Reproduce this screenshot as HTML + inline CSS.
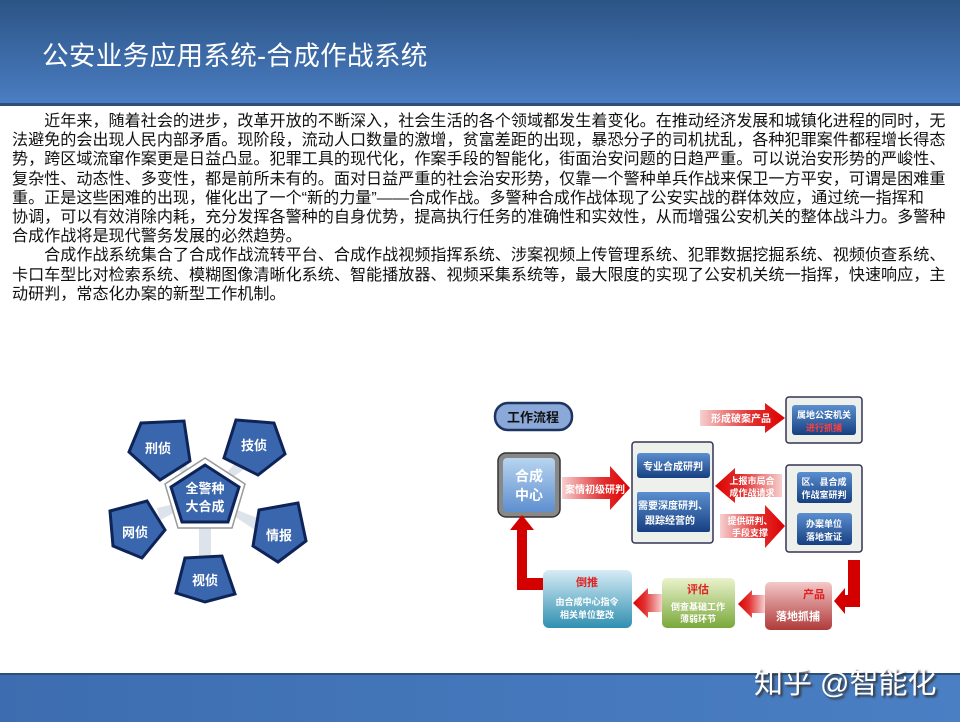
<!DOCTYPE html>
<html><head><meta charset="utf-8">
<style>
*{margin:0;padding:0}
body{width:960px;height:720px;position:relative;overflow:hidden;background:#fff;font-family:"Liberation Sans","Noto Sans CJK SC",sans-serif}
#hd{position:absolute;left:0;top:0;width:960px;height:103px;background:linear-gradient(#2c5486,#4a7dc2);border-bottom:3px solid #2c4f78}
#hd h1{position:absolute;left:42px;top:34px;font-size:26.6px;font-weight:normal;color:#fff;letter-spacing:0.3px;white-space:nowrap}
#tx{position:absolute;left:12px;top:112px;font-size:16.1px;line-height:19.2px;color:#111;white-space:nowrap}
#ft{position:absolute;left:0;top:673px;width:960px;height:47px;background:linear-gradient(90deg,#3d6db0,#4a7fc4);border-top:2px solid #2c4f78}
#wm{position:absolute;left:754px;top:660px;font-size:29px;color:#fff;text-shadow:2px 2px 2px #333;white-space:nowrap}
</style></head><body>
<div id="hd"><h1>公安业务应用系统-合成作战系统</h1></div>
<div id="tx">
<div>　　近年来，随着社会的进步，改革开放的不断深入，社会生活的各个领域都发生着变化。在推动经济发展和城镇化进程的同时，无</div>
<div>法避免的会出现人民内部矛盾。现阶段，流动人口数量的激增，贫富差距的出现，暴恐分子的司机扰乱，各种犯罪案件都程增长得态</div>
<div>势，跨区域流窜作案更是日益凸显。犯罪工具的现代化，作案手段的智能化，街面治安问题的日趋严重。可以说治安形势的严峻性、</div>
<div>复杂性、动态性、多变性，都是前所未有的。面对日益严重的社会治安形势，仅靠一个警种单兵作战来保卫一方平安，可谓是困难重</div>
<div>重。正是这些困难的出现，催化出了一个“新的力量”——合成作战。多警种合成作战体现了公安实战的群体效应，通过统一指挥和</div>
<div>协调，可以有效消除内耗，充分发挥各警种的自身优势，提高执行任务的准确性和实效性，从而增强公安机关的整体战斗力。多警种</div>
<div>合成作战将是现代警务发展的必然趋势。</div>
<div>　　合成作战系统集合了合成作战流转平台、合成作战视频指挥系统、涉案视频上传管理系统、犯罪数据挖掘系统、视频侦查系统、</div>
<div>卡口车型比对检索系统、模糊图像清晰化系统、智能播放器、视频采集系统等，最大限度的实现了公安机关统一指挥，快速响应，主</div>
<div>动研判，常态化办案的新型工作机制。</div>
</div>

<svg style="position:absolute;left:0;top:0" width="960" height="720" font-family="Liberation Sans,Noto Sans CJK SC,sans-serif">
<defs>
<linearGradient id="bl" x1="0" y1="0" x2="0" y2="1"><stop offset="0" stop-color="#5b8fd0"/><stop offset="1" stop-color="#163f80"/></linearGradient>
<linearGradient id="rr" x1="0" y1="0" x2="1" y2="0"><stop offset="0" stop-color="#f6d0d0"/><stop offset="0.6" stop-color="#e23030"/><stop offset="1" stop-color="#d00"/></linearGradient>
<linearGradient id="rl" x1="1" y1="0" x2="0" y2="0"><stop offset="0" stop-color="#f6d0d0"/><stop offset="0.6" stop-color="#e23030"/><stop offset="1" stop-color="#d00"/></linearGradient>
<linearGradient id="cy" x1="0" y1="0" x2="0" y2="1"><stop offset="0" stop-color="#b8d4f0"/><stop offset="1" stop-color="#5e8fd0"/></linearGradient>
<linearGradient id="lb" x1="0" y1="0" x2="0" y2="1"><stop offset="0" stop-color="#d7ecf6"/><stop offset="1" stop-color="#2f8fb0"/></linearGradient>
<linearGradient id="gr" x1="0" y1="0" x2="0" y2="1"><stop offset="0" stop-color="#eaf3cc"/><stop offset="1" stop-color="#7aa83a"/></linearGradient>
<linearGradient id="pk" x1="0" y1="0" x2="0" y2="1"><stop offset="0" stop-color="#f4c8c8"/><stop offset="1" stop-color="#b03a3a"/></linearGradient>
</defs>

<g fill="#dde3ea">
<polygon points="205,497 172,463 182,458"/>
<polygon points="205,497 238,460 247,467"/>
<polygon points="205,497 160,520 157,508"/>
<polygon points="205,497 262,520 258,532"/>
<polygon points="199,497 211,497 211,560 218,560 205,572 192,560 199,560"/>
</g>
<g stroke="#0e2458" stroke-width="3" fill="#3a66ad" font-size="13" font-weight="bold">
<polygon points="205,458 245,484 232,528 178,528 165,484" fill="#fff" stroke="#999" stroke-width="1.5"/>
<polygon points="205,465 239,487 228,522 182,522 171,487"/>
<polygon points="141,423 184,421 190,461 160,480 129,452"/>
<polygon points="236,420 274,423 285,454 258,475 224,458"/>
<polygon points="110,511 147,501 165,530 142,558 113,546"/>
<polygon points="259,510 298,503 306,541 278,562 253,546"/>
<polygon points="185,558 222,556 235,594 205,602 176,593"/>
</g>
<g fill="#fff" font-size="13" font-weight="bold" text-anchor="middle">
<text x="158" y="453">刑侦</text><text x="254" y="450">技侦</text>
<text x="135" y="537">网侦</text><text x="279" y="540">情报</text>
<text x="205" y="585">视侦</text>
<text x="205" y="493" font-size="13">全警种</text><text x="205" y="511" font-size="13">大合成</text>
</g>

<rect x="495" y="403" width="77" height="27" rx="13" fill="#8aa8d8" stroke="#1d3460" stroke-width="2.5"/>
<text x="533" y="422" text-anchor="middle" font-size="13" font-weight="bold" fill="#111">工作流程</text>

<rect x="498" y="453" width="62" height="64" rx="8" fill="#888" stroke="#333" stroke-width="1.5"/>
<rect x="503" y="458" width="52" height="54" rx="4" fill="url(#cy)"/>
<text x="529" y="481" text-anchor="middle" font-size="14" font-weight="bold" fill="#fff">合成</text>
<text x="529" y="500" text-anchor="middle" font-size="14" font-weight="bold" fill="#fff">中心</text>

<polygon points="562,477 610,477 610,466 630,488 610,510 610,499 562,499" fill="url(#rr)"/>
<text x="595" y="493" text-anchor="middle" font-size="10" font-weight="bold" fill="#fff">案情初级研判</text>
<polygon points="700,410 765,410 765,403 785,418 765,433 765,426 700,426" fill="url(#rr)"/>
<text x="741" y="422" text-anchor="middle" font-size="10" font-weight="bold" fill="#fff">形成破案产品</text>
<polygon points="782,474 735,474 735,468 715,486 735,503 735,497 782,497" fill="url(#rl)"/>
<text x="752" y="484" text-anchor="middle" font-size="9" font-weight="bold" fill="#fff">上报市局合</text>
<text x="752" y="496" text-anchor="middle" font-size="9" font-weight="bold" fill="#fff">成作战请求</text>
<polygon points="720,514 765,514 765,505 785,526 765,548 765,538 720,538" fill="url(#rr)"/>
<text x="750" y="524" text-anchor="middle" font-size="9" font-weight="bold" fill="#fff">提供研判、</text>
<text x="750" y="536" text-anchor="middle" font-size="9" font-weight="bold" fill="#fff">手段支撑</text>

<rect x="632" y="442" width="81" height="101" rx="3" fill="#eef0ec" stroke="#335" stroke-width="1.5"/>
<rect x="637" y="453" width="73" height="25" rx="3" fill="url(#bl)"/>
<text x="673" y="470" text-anchor="middle" font-size="10" font-weight="bold" fill="#fff">专业合成研判</text>
<rect x="637" y="492" width="73" height="40" rx="2" fill="url(#bl)"/>
<text x="673" y="509" text-anchor="middle" font-size="10" font-weight="bold" fill="#fff">需要深度研判、</text>
<text x="670" y="524" text-anchor="middle" font-size="10" font-weight="bold" fill="#fff">跟踪经营的</text>

<rect x="786" y="397" width="76" height="46" rx="3" fill="#eef0ec" stroke="#335" stroke-width="1.5"/>
<rect x="792" y="405" width="64" height="30" rx="3" fill="url(#bl)"/>
<text x="824" y="418" text-anchor="middle" font-size="9" font-weight="bold" fill="#fff">属地公安机关</text>
<text x="824" y="431" text-anchor="middle" font-size="9" font-weight="bold" fill="#ff4040">进行抓捕</text>

<rect x="786" y="465" width="76" height="87" rx="3" fill="#eef0ec" stroke="#335" stroke-width="1.5"/>
<rect x="797" y="472" width="55" height="31" rx="3" fill="url(#bl)"/>
<text x="824" y="485" text-anchor="middle" font-size="9" font-weight="bold" fill="#fff">区、县合成</text>
<text x="824" y="498" text-anchor="middle" font-size="9" font-weight="bold" fill="#fff">作战室研判</text>
<rect x="797" y="513" width="55" height="32" rx="3" fill="url(#bl)"/>
<text x="824" y="527" text-anchor="middle" font-size="9" font-weight="bold" fill="#fff">办案单位</text>
<text x="824" y="540" text-anchor="middle" font-size="9" font-weight="bold" fill="#fff">落地查证</text>

<polygon points="848,560 860,560 860,607 845,607 845,614 834,601 845,588 845,595 848,595" fill="#d40000"/>
<polygon points="543,578 543,590 517,590 517,530 510,530 522,515 534,530 527,530 527,578" fill="#d40000"/>
<polygon points="662,594 648,594 648,588 633,603 648,618 648,612 662,612" fill="url(#rl)"/>
<polygon points="765,595 752,595 752,590 738,604 752,618 752,613 765,613" fill="url(#rl)"/>

<rect x="543" y="570" width="89" height="58" rx="6" fill="url(#lb)"/>
<text x="587" y="586" text-anchor="middle" font-size="11" font-weight="bold" fill="#e02020">倒推</text>
<text x="587" y="605" text-anchor="middle" font-size="9" font-weight="bold" fill="#fff">由合成中心指令</text>
<text x="587" y="618" text-anchor="middle" font-size="9" font-weight="bold" fill="#fff">相关单位整改</text>
<rect x="662" y="578" width="73" height="50" rx="5" fill="url(#gr)"/>
<text x="698" y="593" text-anchor="middle" font-size="11" font-weight="bold" fill="#e02020">评估</text>
<text x="698" y="610" text-anchor="middle" font-size="9" font-weight="bold" fill="#fff">倒查基础工作</text>
<text x="698" y="622" text-anchor="middle" font-size="9" font-weight="bold" fill="#fff">薄弱环节</text>
<rect x="765" y="582" width="67" height="48" rx="5" fill="url(#pk)"/>
<text x="814" y="598" text-anchor="middle" font-size="11" font-weight="bold" fill="#e02020">产品</text>
<text x="798" y="620" text-anchor="middle" font-size="11" font-weight="bold" fill="#fff">落地抓捕</text>
</svg>

<div id="ft"></div>
<div id="wm">知乎 @智能化</div>
</body></html>
